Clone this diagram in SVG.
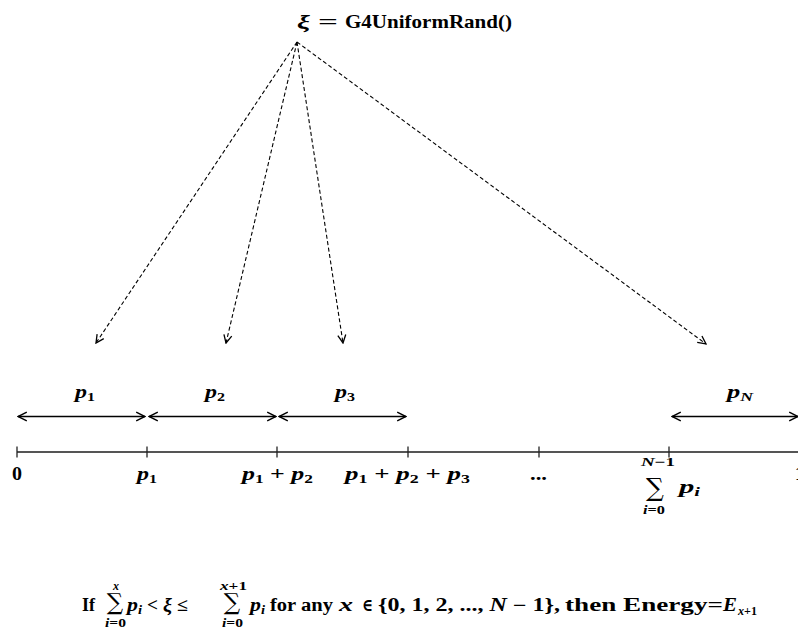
<svg xmlns="http://www.w3.org/2000/svg" width="798" height="628" viewBox="0 0 798 628">
<defs>
<marker id="open" viewBox="0 0 10 10" refX="9" refY="5" markerWidth="11" markerHeight="11" markerUnits="userSpaceOnUse" orient="auto-start-reverse">
<path d="M1,1 L9,5 L1,9" fill="none" stroke="#000" stroke-width="1.3"/>
</marker>
<marker id="dopen" viewBox="0 0 10 10" refX="9" refY="5" markerWidth="10" markerHeight="10" markerUnits="userSpaceOnUse" orient="auto">
<path d="M1,1 L9,5 L1,9" fill="none" stroke="#000" stroke-width="1.3"/>
</marker>
</defs>
<style>
svg{font-size:18px}
text{font-family:"Liberation Serif","DejaVu Serif",serif;font-weight:bold;fill:#000}
.v{font-style:italic}
.s{font-size:12px}
.sum{font-family:"DejaVu Serif",serif;font-weight:normal}
.dash{stroke:#000;stroke-width:1.1;stroke-dasharray:4,2.5;fill:none}
.dbl{stroke:#000;stroke-width:1.4;fill:none}
.tick{stroke:#222;stroke-width:1.3}
</style>
<rect width="798" height="628" fill="#fff"/>
<g id="source">
<text x="297" y="28" font-size="19" class="v" textLength="13" lengthAdjust="spacingAndGlyphs">ξ</text>
<text x="318" y="28" font-size="19" textLength="20" lengthAdjust="spacingAndGlyphs">=</text>
<text x="345" y="28" font-size="19" textLength="167" lengthAdjust="spacingAndGlyphs">G4UniformRand()</text>
</g>
<g id="connectors">
<line class="dash" x1="297" y1="42" x2="96" y2="343" marker-end="url(#dopen)"/>
<line class="dash" x1="297" y1="42" x2="226" y2="343" marker-end="url(#dopen)"/>
<line class="dash" x1="297" y1="42" x2="343" y2="343" marker-end="url(#dopen)"/>
<line class="dash" x1="297" y1="42" x2="706" y2="344" marker-end="url(#dopen)"/>
<line class="dbl" x1="18" y1="416.5" x2="145" y2="416.5" marker-start="url(#open)" marker-end="url(#open)"/>
<line class="dbl" x1="149" y1="416.5" x2="276" y2="416.5" marker-start="url(#open)" marker-end="url(#open)"/>
<line class="dbl" x1="279" y1="416.5" x2="406" y2="416.5" marker-start="url(#open)" marker-end="url(#open)"/>
<line class="dbl" x1="672" y1="416.5" x2="798" y2="416.5" marker-start="url(#open)" marker-end="url(#open)"/>
</g>
<g id="segments">
<text x="75" y="398" textLength="20" lengthAdjust="spacingAndGlyphs"><tspan class="v">p</tspan><tspan class="s" dy="3">1</tspan></text>
<text x="205" y="398" textLength="20" lengthAdjust="spacingAndGlyphs"><tspan class="v">p</tspan><tspan class="s" dy="3">2</tspan></text>
<text x="335" y="398" textLength="20" lengthAdjust="spacingAndGlyphs"><tspan class="v">p</tspan><tspan class="s" dy="3">3</tspan></text>
<text x="727" y="398" textLength="26" lengthAdjust="spacingAndGlyphs"><tspan class="v">p</tspan><tspan class="s v" dy="3">N</tspan></text>
</g>
<g id="axis">
<line x1="17" y1="452" x2="798" y2="452" stroke="#555" stroke-width="2"/>
<line class="tick" x1="17" y1="446.5" x2="17" y2="457.5"/>
<line class="tick" x1="147" y1="446.5" x2="147" y2="457.5"/>
<line class="tick" x1="277" y1="446.5" x2="277" y2="457.5"/>
<line class="tick" x1="408" y1="446.5" x2="408" y2="457.5"/>
<line class="tick" x1="539" y1="446.5" x2="539" y2="457.5"/>
<line class="tick" x1="669" y1="446.5" x2="669" y2="457.5"/>
</g>
<g id="labels">
<text x="12" y="480" textLength="10" lengthAdjust="spacingAndGlyphs">0</text>
<text x="137" y="480" textLength="20" lengthAdjust="spacingAndGlyphs"><tspan class="v">p</tspan><tspan class="s" dy="3">1</tspan></text>
<text x="242" y="480" textLength="71" lengthAdjust="spacingAndGlyphs"><tspan class="v">p</tspan><tspan class="s" dy="3">1</tspan><tspan dy="-3"> + </tspan><tspan class="v">p</tspan><tspan class="s" dy="3">2</tspan></text>
<text x="345" y="480" textLength="125" lengthAdjust="spacingAndGlyphs"><tspan class="v">p</tspan><tspan class="s" dy="3">1</tspan><tspan dy="-3"> + </tspan><tspan class="v">p</tspan><tspan class="s" dy="3">2</tspan><tspan dy="-3"> + </tspan><tspan class="v">p</tspan><tspan class="s" dy="3">3</tspan></text>
<text x="530" y="480" textLength="17" lengthAdjust="spacingAndGlyphs">...</text>
<text x="641" y="466" font-size="12" textLength="34" lengthAdjust="spacingAndGlyphs"><tspan class="v">N</tspan>−1</text>
<text x="655" y="496" font-size="25" class="sum" text-anchor="middle">∑</text>
<text x="679" y="493" textLength="21" lengthAdjust="spacingAndGlyphs"><tspan class="v">p</tspan><tspan class="s v" dy="3">i</tspan></text>
<text x="643" y="514" font-size="12" textLength="22" lengthAdjust="spacingAndGlyphs"><tspan class="v">i</tspan>=0</text>
<text x="795" y="480">1</text>
</g>
<g id="formula">
<text x="82" y="611" textLength="13" lengthAdjust="spacingAndGlyphs">If</text>
<text x="115" y="610" font-size="23" class="sum" text-anchor="middle">∑</text>
<text x="116" y="590" font-size="12" class="v" text-anchor="middle">x</text>
<text x="105" y="627" font-size="12" textLength="21" lengthAdjust="spacingAndGlyphs"><tspan class="v">i</tspan>=0</text>
<text x="127" y="611" textLength="15" lengthAdjust="spacingAndGlyphs"><tspan class="v">p</tspan><tspan class="s v" dy="3">i</tspan></text>
<text x="147" y="611" textLength="11" lengthAdjust="spacingAndGlyphs">&lt;</text>
<text x="163" y="611" class="v" textLength="9" lengthAdjust="spacingAndGlyphs">ξ</text>
<text x="177" y="611" textLength="11" lengthAdjust="spacingAndGlyphs">≤</text>
<text x="232" y="610" font-size="23" class="sum" text-anchor="middle">∑</text>
<text x="220" y="590" font-size="12" textLength="27" lengthAdjust="spacingAndGlyphs"><tspan class="v">x</tspan>+1</text>
<text x="222" y="627" font-size="12" textLength="21" lengthAdjust="spacingAndGlyphs"><tspan class="v">i</tspan>=0</text>
<text x="250" y="611" textLength="15" lengthAdjust="spacingAndGlyphs"><tspan class="v">p</tspan><tspan class="s v" dy="3">i</tspan></text>
<text x="270" y="611" textLength="63" lengthAdjust="spacingAndGlyphs">for any</text>
<text x="339" y="611" class="v" textLength="14" lengthAdjust="spacingAndGlyphs">x</text>
<text x="362" y="611" textLength="11" lengthAdjust="spacingAndGlyphs">∈</text>
<text x="378" y="611" textLength="182" lengthAdjust="spacingAndGlyphs">{0, 1, 2, ..., <tspan class="v">N</tspan> − 1},</text>
<text x="565" y="611" textLength="158" lengthAdjust="spacingAndGlyphs">then Energy=</text>
<text x="723" y="611" class="v" textLength="14" lengthAdjust="spacingAndGlyphs">E</text>
<text x="738" y="615" font-size="12" textLength="19" lengthAdjust="spacingAndGlyphs"><tspan class="v">x</tspan>+1</text>
</g>
</svg>
